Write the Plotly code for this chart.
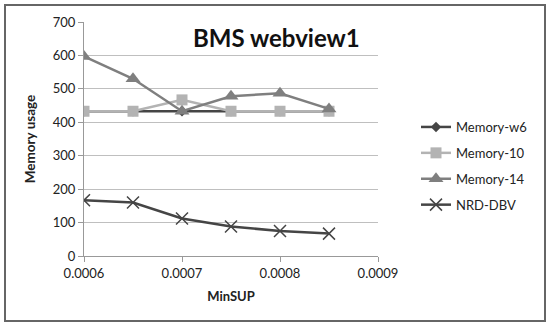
import plotly.graph_objects as go

minsup = [0.0006, 0.00065, 0.0007, 0.00075, 0.0008, 0.00085]
memory_w6 = [433, 433, 433, 433, 433, 433]
memory_10 = [433, 433, 467, 433, 433, 433]
memory_14 = [597, 530, 433, 478, 487, 440]
nrd_dbv = [167, 160, 112, 88, 75, 67]

FONT = "Lato"
fig = go.Figure()
fig.add_trace(go.Scatter(x=minsup, y=memory_w6, name="Memory-w6", mode="lines+markers",
                         legendgroup="a",
                         line=dict(color="#454545", width=2.5),
                         marker=dict(symbol="diamond", size=8, color="#454545")))
fig.add_trace(go.Scatter(x=minsup, y=memory_10, name="Memory-10", mode="lines+markers",
                         legendgroup="b",
                         line=dict(color="#b3b3b3", width=2.5),
                         marker=dict(symbol="square", size=11, color="#b3b3b3")))
fig.add_trace(go.Scatter(x=minsup, y=memory_14, name="Memory-14", mode="lines+markers",
                         legendgroup="c",
                         line=dict(color="#7f7f7f", width=2.5),
                         marker=dict(symbol="triangle-up", size=13, color="#7f7f7f")))
fig.add_trace(go.Scatter(x=minsup, y=nrd_dbv, name="NRD-DBV", mode="lines+markers",
                         legendgroup="d",
                         line=dict(color="#454545", width=2.5),
                         marker=dict(symbol="x-thin", size=12, color="#454545",
                                     line=dict(color="#454545", width=1.5))))

L, R, T, B = 84, 378, 22, 256
W, H = 550, 327
pw, ph = R - L, B - T

fig.update_layout(
    width=W, height=H,
    margin=dict(l=L, r=W - R, t=T, b=H - B),
    paper_bgcolor="white", plot_bgcolor="white",
    font=dict(family=FONT, size=13, color="#222222"),
    showlegend=True,
    legend=dict(x=(416 - L) / pw, y=(B - 112) / ph, xanchor="left", yanchor="top",
                font=dict(family=FONT, size=13, color="#222222"),
                tracegroupgap=6, itemwidth=30, bgcolor="rgba(0,0,0,0)"),
    xaxis=dict(range=[0.0006, 0.0009], tickvals=[0.0006, 0.0007, 0.0008, 0.0009],
               ticktext=["0.0006", "0.0007", "0.0008", "0.0009"],
               showgrid=False, zeroline=False, showline=True, linecolor="#999999", linewidth=1,
               ticks="outside", ticklen=5, tickcolor="#999999",
               tickfont=dict(family=FONT, size=13, color="#222222"),
               title=dict(text="<b>MinSUP</b>", font=dict(family=FONT, size=13, color="#222222"),
                          standoff=12)),
    yaxis=dict(range=[0, 700], tickvals=[0, 100, 200, 300, 400, 500, 600, 700],
               showgrid=True, gridcolor="#bfbfbf", gridwidth=1, zeroline=False,
               showline=True, linecolor="#999999", linewidth=1,
               ticks="outside", ticklen=5, tickcolor="#999999",
               tickfont=dict(family=FONT, size=13, color="#222222"),
               title=dict(text="<b>Memory usage</b>", font=dict(family=FONT, size=13.5, color="#222222"),
                          standoff=14)),
    annotations=[dict(text="<b>BMS webview1</b>", xref="paper", yref="paper",
                      x=(276 - L) / pw, y=(B - 38) / ph, xanchor="center", yanchor="middle",
                      showarrow=False, font=dict(family=FONT, size=24, color="#111111"))],
    shapes=[dict(type="rect", xref="paper", yref="paper",
                 x0=(5 - L) / pw, x1=(545 - L) / pw, y0=(B - 321) / ph, y1=(B - 5) / ph,
                 line=dict(color="#666666", width=2), fillcolor="rgba(0,0,0,0)", layer="below")],
)

fig.write_html("out.html", config={"displayModeBar": False},
               post_script="document.body.style.margin='0';")
